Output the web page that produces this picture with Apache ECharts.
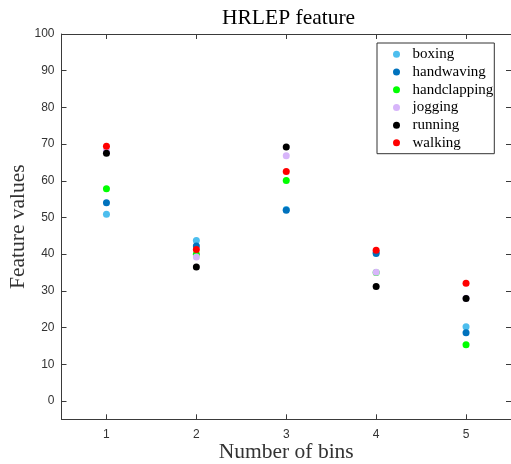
<!DOCTYPE html>
<html>
<head>
<meta charset="utf-8">
<script src="https://cdn.jsdelivr.net/npm/echarts@6/dist/echarts.min.js"></script>
<style>
  html, body { margin: 0; padding: 0; background: #fff; }
  #chart { width: 511px; height: 464px; }
</style>
</head>
<body>
<div id="chart"></div>
<script>
// bins on the x axis
var bins = [1, 2, 3, 4, 5];
var yTicks = [0, 10, 20, 30, 40, 50, 60, 70, 80, 90, 100];

// feature values per action, one per bin
var boxing       = [50.9, 43.7, 52.2, 40.5, 20.2];
var handwaving   = [54.0, 42.2, 52.0, 40.2, 18.6];
var handclapping = [57.8, 40.0, 60.1, 35.0, 15.3];
var jogging      = [68.2, 39.2, 66.8, 35.1, 28.0];
var running      = [67.5, 36.5, 69.2, 31.2, 27.9];
var walking      = [69.4, 41.3, 62.5, 41.1, 32.1];

var names = ['boxing', 'handwaving', 'handclapping', 'jogging', 'running', 'walking'];
var values = [boxing, handwaving, handclapping, jogging, running, walking];
var colors = ['#4DBEEE', '#0072BD', '#00FF00', '#D7B5FA', '#000000', '#FF0000'];

var axisColor = '#3a3a3a';
var serif = '"Liberation Serif", "DejaVu Serif", serif';
var sans = '"Liberation Sans", Arial, sans-serif';

var myChart = echarts.init(document.getElementById('chart'));

var series = names.map(function (n, i) {
  return {
    name: n,
    type: 'scatter',
    symbolSize: 7,
    itemStyle: { color: colors[i], opacity: 1 },
    data: bins.map(function (b, j) { return [b, values[i][j]]; })
  };
});

// axis pieces shared by the box edges
function edgeLine() {
  return { show: true, onZero: false, lineStyle: { color: axisColor } };
}
function edgeTick(vals) {
  return { show: true, inside: true, length: 5, customValues: vals, lineStyle: { color: axisColor } };
}

var option = {
  animation: false,
  title: {
    text: 'HRLEP feature',
    left: 217,
    top: 2,
    textStyle: { fontFamily: serif, fontSize: 21.5, fontWeight: 'normal', color: '#000' }
  },
  legend: {
    orient: 'vertical',
    left: 377,
    top: 43,
    data: names,
    icon: 'circle',
    itemWidth: 22,
    itemHeight: 7,
    itemGap: 0,
    padding: [2.5, 1, 2, 16],
    borderColor: '#333',
    borderWidth: 1,
    backgroundColor: '#fff',
    textStyle: { fontFamily: serif, fontSize: 15, color: '#000', lineHeight: 17.7 }
  },
  grid: {
    left: 61.5,
    top: 34,
    right: 0,
    bottom: 44.7,
    containLabel: false,
    outerBoundsMode: 'none'
  },
  xAxis: [{
    type: 'value',
    min: 0.5,
    max: 5.5,
    name: 'Number of bins',
    nameLocation: 'middle',
    nameGap: 22,
    nameMoveOverlap: false,
    nameTextStyle: { fontFamily: serif, fontSize: 21.5, color: '#333' },
    axisLine: edgeLine(),
    axisTick: edgeTick(bins),
    axisLabel: { customValues: bins, margin: 9, fontFamily: sans, fontSize: 12, color: '#333' },
    splitLine: { show: false }
  }, {
    type: 'value',
    position: 'top',
    min: 0.5,
    max: 5.5,
    axisLine: edgeLine(),
    axisTick: edgeTick(bins),
    axisLabel: { show: false },
    splitLine: { show: false }
  }],
  yAxis: [{
    type: 'value',
    min: -5,
    max: 100,
    name: 'Feature values',
    nameLocation: 'middle',
    nameGap: 32,
    nameMoveOverlap: false,
    nameTextStyle: { fontFamily: serif, fontSize: 21.5, color: '#333' },
    axisLine: edgeLine(),
    axisTick: edgeTick(yTicks),
    axisLabel: { customValues: yTicks, margin: 7, fontFamily: sans, fontSize: 12, color: '#333' },
    splitLine: { show: false }
  }, {
    type: 'value',
    position: 'right',
    min: -5,
    max: 100,
    axisLine: edgeLine(),
    axisTick: edgeTick(yTicks),
    axisLabel: { show: false },
    splitLine: { show: false }
  }],
  series: series
};

myChart.setOption(option);
</script>
</body>
</html>
